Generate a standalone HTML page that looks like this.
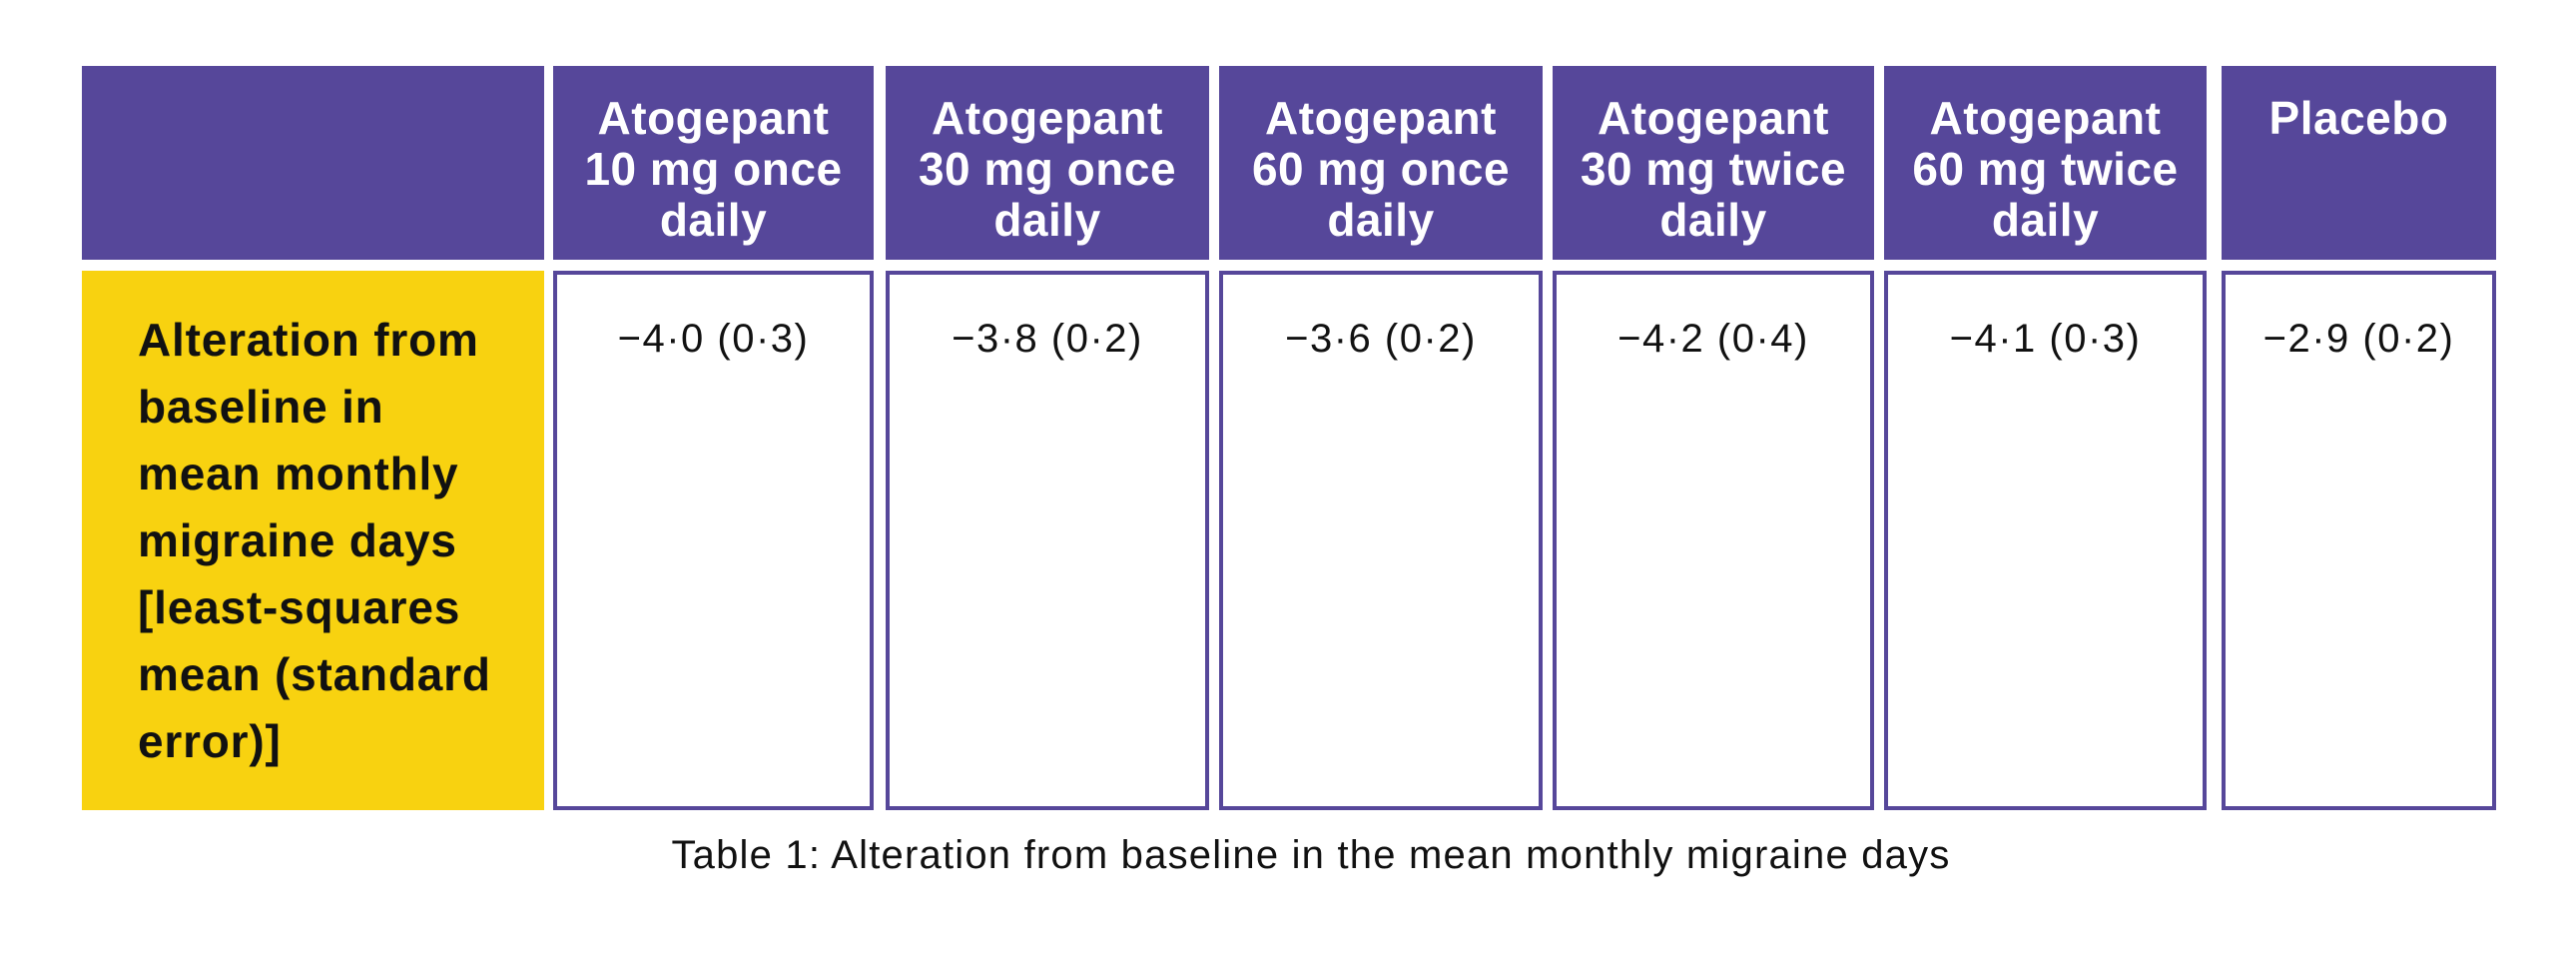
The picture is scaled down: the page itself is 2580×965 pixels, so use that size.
<!DOCTYPE html>
<html><head><meta charset="utf-8"><style>
body{margin:0;width:2580px;height:965px;background:#fff;position:relative;overflow:hidden;font-family:"Liberation Sans",sans-serif}
.h{position:absolute;top:66px;height:194px;background:#56479a;color:#fff;font-weight:bold;font-size:46px;line-height:51px;text-align:center;box-sizing:border-box;letter-spacing:0.5px}
.h span{position:absolute;left:0;right:0;top:27px}
.c{position:absolute;top:271px;height:540px;border:4px solid #56479a;box-sizing:border-box;text-align:center;font-size:40px;letter-spacing:1.5px;color:#111;padding-top:42px}
.lab{position:absolute;left:82px;top:271px;width:463px;height:540px;background:#f8d210;box-sizing:border-box;padding:36px 0 0 56px;font-weight:bold;font-size:46px;letter-spacing:0.8px;line-height:67px;color:#111;white-space:nowrap}
.cap{position:absolute;top:834px;left:0;width:2626px;text-align:center;font-size:40px;letter-spacing:1.2px;color:#111}
</style></head><body>
<div class="h" style="left:82px;width:463px"></div>
<div class="h" style="left:554px;width:321px"><span>Atogepant<br>10 mg once<br>daily</span></div>
<div class="h" style="left:887px;width:324px"><span>Atogepant<br>30 mg once<br>daily</span></div>
<div class="h" style="left:1221px;width:324px"><span>Atogepant<br>60 mg once<br>daily</span></div>
<div class="h" style="left:1555px;width:322px"><span>Atogepant<br>30 mg twice<br>daily</span></div>
<div class="h" style="left:1887px;width:323px"><span>Atogepant<br>60 mg twice<br>daily</span></div>
<div class="h" style="left:2225px;width:275px"><span>Placebo</span></div>
<div class="lab">Alteration from<br>baseline in<br>mean monthly<br>migraine days<br>[least-squares<br>mean (standard<br>error)]</div>
<div class="c" style="left:554px;width:321px">−4·0 (0·3)</div>
<div class="c" style="left:887px;width:324px">−3·8 (0·2)</div>
<div class="c" style="left:1221px;width:324px">−3·6 (0·2)</div>
<div class="c" style="left:1555px;width:322px">−4·2 (0·4)</div>
<div class="c" style="left:1887px;width:323px">−4·1 (0·3)</div>
<div class="c" style="left:2225px;width:275px">−2·9 (0·2)</div>
<div class="cap">Table 1: Alteration from baseline in the mean monthly migraine days</div>
</body></html>
